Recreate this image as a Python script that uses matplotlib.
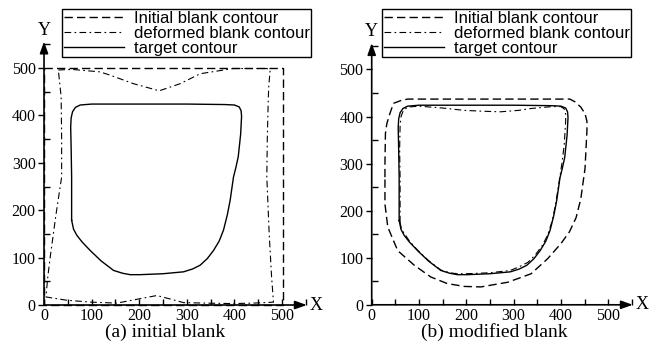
import matplotlib
matplotlib.use("Agg")
import matplotlib.pyplot as plt
from matplotlib.ticker import MultipleLocator

# ---- data (mm) ----
# panel (a): initial blank
init_a_x = [0, 502, 502, 0, 0]
init_a_y = [500, 500, 0, 0, 500]

deformed_a_x = [30, 60, 117, 139, 188, 242, 286, 328, 397, 468, 475, 472, 471, 469,
                468, 473, 478, 482, 440, 397, 340, 293, 260, 237, 200, 153, 100, 48,
                4, 8, 13, 25, 37, 37, 36, 30]
deformed_a_y = [496, 497, 492, 485, 467, 452, 467, 488, 499, 499, 496, 460, 432, 350,
                270, 150, 60, 6, 4, 3, 4, 5, 14, 20, 13, 4, 6, 10,
                17, 60, 101, 190, 270, 350, 439, 496]

target_x = [58, 58, 57, 56, 57, 60, 66, 76, 100, 200, 300, 380, 400, 410, 414, 415,
            413, 408, 403, 398, 391, 385, 377, 368, 356, 343, 328, 312, 293, 250,
            202, 181, 165, 146, 120, 97, 80, 69, 62, 58]
target_y = [179, 270, 330, 376, 395, 408, 417, 422, 424, 424, 424, 423, 422, 418, 410, 398,
            360, 313, 290, 270, 221, 190, 158, 135, 115, 98, 84, 76, 70, 66,
            64, 64, 67, 73, 93, 115, 133, 147, 160, 179]

# panel (b): modified blank
init_b_x = [28, 28, 29, 32, 38, 46, 62, 76, 120, 200, 300, 419, 430, 442, 451, 455,
            455, 451, 442, 432, 418, 400, 372, 337, 288, 231, 196, 160, 125, 90,
            55, 34, 28, 28]
init_b_y = [271, 300, 364, 385, 405, 428, 434, 437, 437, 437, 437, 437, 431, 420, 406, 390,
            371, 290, 225, 185, 155, 130, 98, 66, 48, 38, 39, 45, 59, 84,
            115, 165, 214, 271]

deformed_b_x = [60, 60, 59, 60, 62, 67, 76, 100, 150, 196, 240, 273, 310, 337, 380, 400,
                407, 410, 410, 407, 402, 396, 389, 382, 372, 360, 345, 330, 310, 293,
                250, 200, 181, 165, 146, 120, 97, 80, 70, 63, 60]
deformed_b_y = [175, 270, 330, 380, 400, 413, 420, 422, 418, 413, 411, 410, 413, 417, 421, 421,
                416, 405, 390, 340, 300, 260, 215, 180, 148, 125, 105, 90, 80, 73,
                68, 66, 66, 68, 74, 94, 116, 135, 150, 160, 175]

ticks = [0, 100, 200, 300, 400, 500]
captions = ["(a) initial blank", "(b) modified blank"]
legend_labels = ["Initial blank contour", "deformed blank contour", "target contour"]

serif = "Liberation Serif"
sans = "Liberation Sans"

fig = plt.figure(figsize=(6.62, 3.54), dpi=100)

axes_boxes = [[0.0665, 0.1384, 0.3955, 0.743],
              [0.5615, 0.139, 0.393, 0.738]]
legend_pos = [(62 / 662, 1 - 9 / 354), (382 / 662, 1 - 9 / 354)]
caption_x = [165 / 662, 494 / 662]

panels = [(init_a_x, init_a_y, deformed_a_x, deformed_a_y),
          (init_b_x, init_b_y, deformed_b_x, deformed_b_y)]

for i, (ix, iy, dx, dy) in enumerate(panels):
    ax = fig.add_axes(axes_boxes[i])
    h1, = ax.plot(ix, iy, color="black", lw=1.0, ls=(0, (6, 3)), clip_on=False)
    h2, = ax.plot(dx, dy, color="black", lw=0.8, ls=(0, (6, 3, 1.5, 3)), clip_on=False)
    h3, = ax.plot(target_x, target_y, color="black", lw=1.0, clip_on=False)

    ax.set_xlim(0, 550)
    ax.set_ylim(0, 555)
    for s in ax.spines.values():
        s.set_visible(False)

    # axis lines with arrow heads
    ax.annotate("", xy=(552, 0), xytext=(0, 0),
                arrowprops=dict(arrowstyle="-|>,head_length=0.7,head_width=0.25",
                                color="black", lw=1.2, shrinkA=0, shrinkB=0),
                annotation_clip=False)
    ax.annotate("", xy=(0, 556), xytext=(0, 0),
                arrowprops=dict(arrowstyle="-|>,head_length=0.7,head_width=0.25",
                                color="black", lw=1.2, shrinkA=0, shrinkB=0),
                annotation_clip=False)
    ax.text(572, 0, "X", fontsize=13, family=serif, ha="center", va="center", clip_on=False)
    ax.text(0, 580, "Y", fontsize=13, family=serif, ha="center", va="center", clip_on=False)

    ax.set_xticks(ticks)
    ax.set_yticks(ticks)
    ax.xaxis.set_minor_locator(MultipleLocator(50))
    ax.yaxis.set_minor_locator(MultipleLocator(50))
    ax.tick_params(which="both", direction="in", length=4, width=1, pad=2)
    ax.tick_params(axis="y", which="major", direction="out", length=4, pad=2)
    for lab in ax.get_xticklabels() + ax.get_yticklabels():
        lab.set_family(serif)
        lab.set_fontsize(11.5)

    leg = ax.legend([h1, h2, h3], legend_labels, loc="upper left",
                    bbox_to_anchor=legend_pos[i], bbox_transform=fig.transFigure,
                    prop={"family": sans, "size": 12}, frameon=True, fancybox=False,
                    framealpha=1, edgecolor="black", handlelength=3.6,
                    borderpad=0.1, labelspacing=0.0, handletextpad=0.6,
                    borderaxespad=0)
    leg.get_frame().set_linewidth(1.0)

    fig.text(caption_x[i], 1 - 337 / 354, captions[i], fontsize=14, family=serif,
             ha="center", va="baseline")

fig.savefig("out.png", dpi=100)
